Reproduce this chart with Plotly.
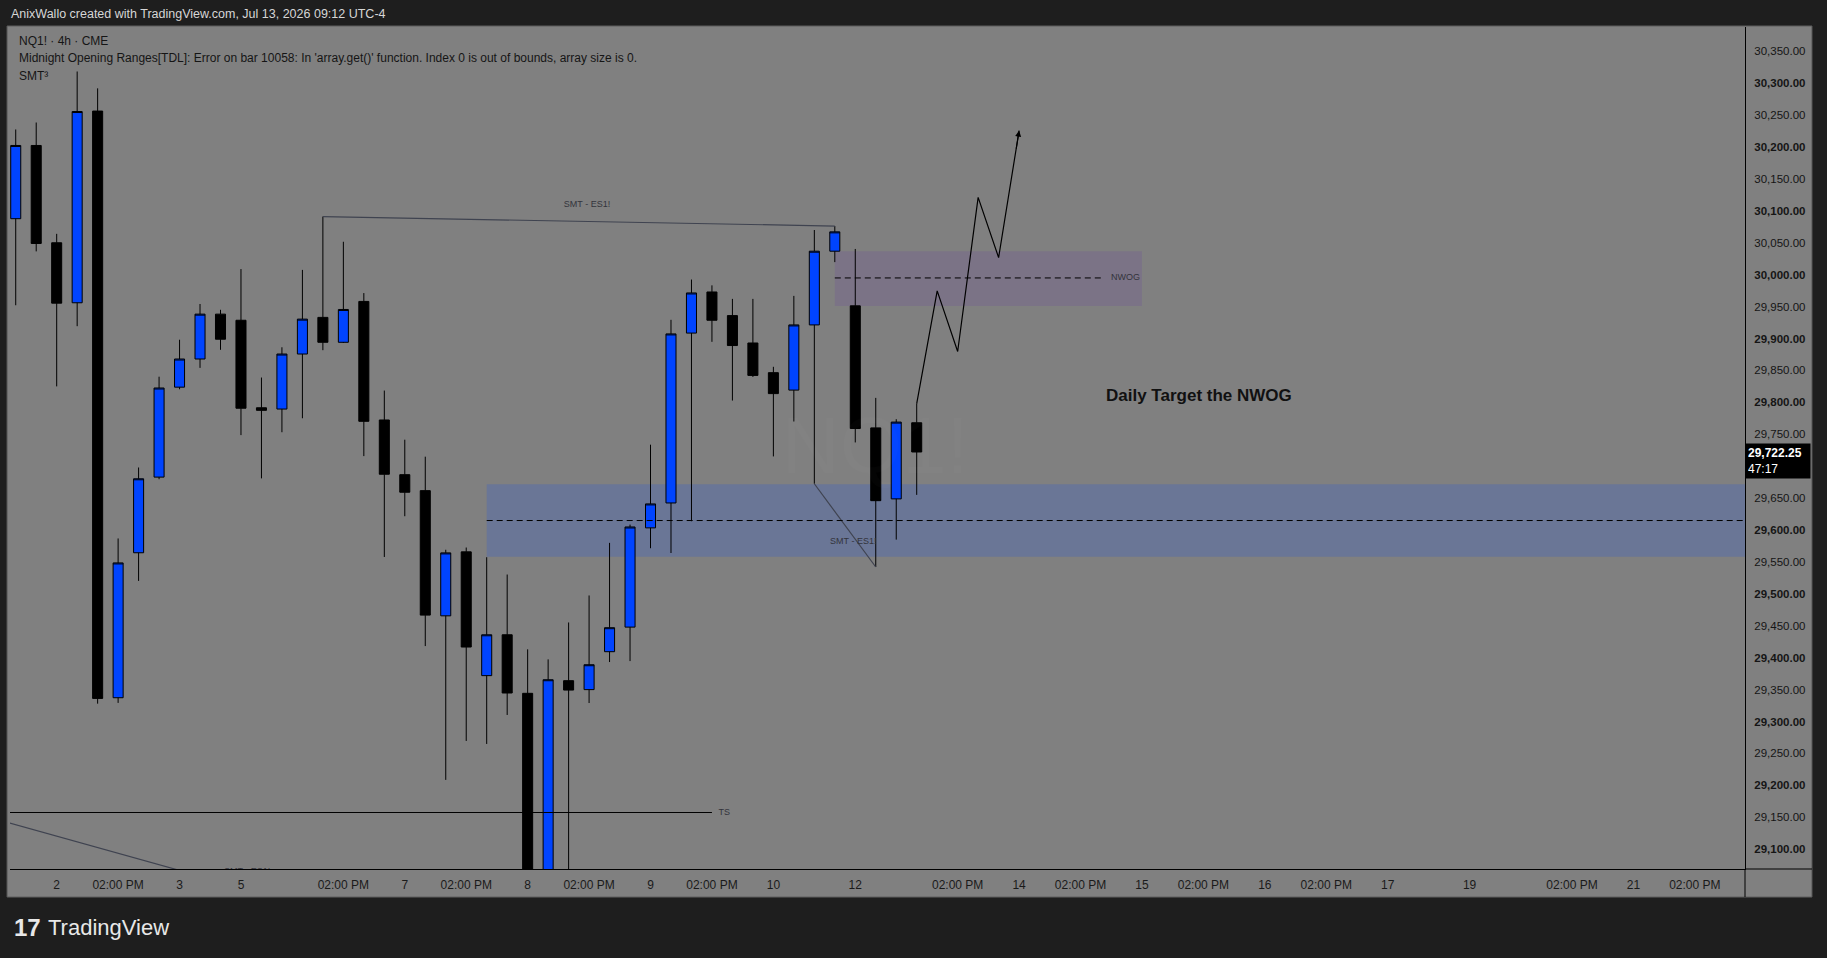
import plotly.graph_objects as go

# 4h NQ1! candles (index = bar number from the left edge)
bar_index = list(range(45))
opens = [30087.7, 30202.4, 30050.0, 29956.0, 30256.3, 29337.3, 29564.4, 29682.9, 29823.8, 29867.9,
         29938.2, 29928.6, 29791.5, 29789.5, 29875.7, 29933.1, 29894.1, 29958.1, 29772.4, 29686.7,
         29661.7, 29465.6, 29565.8, 29371.9, 29435.9, 29344.2, 29015.0, 29364.0, 29350.0, 29409.4,
         29447.9, 29603.4, 29642.4, 29908.5, 29972.9, 29935.9, 29893.0, 29846.5, 29819.2, 29921.3,
         30036.8, 29951.2, 29760.0, 29648.8, 29768.0]
highs = [30227.5, 30238.4, 30064.0, 30318.3, 30291.9, 29586.8, 29698.0, 29840.2, 29898.1, 29954.1,
         29945.0, 30008.8, 29838.9, 29886.3, 30007.5, 30091.0, 30051.6, 29971.2, 29818.5, 29741.5,
         29714.9, 29569.1, 29572.6, 29557.4, 29530.3, 29413.1, 29397.4, 29455.2, 29497.5, 29579.9,
         29608.5, 29733.7, 29929.3, 29992.4, 29983.3, 29962.1, 29962.1, 29855.7, 29966.8, 30070.0,
         30076.2, 30040.3, 29807.0, 29773.6, 29798.1]
lows = [29952.1, 30036.5, 29825.0, 29919.3, 29328.0, 29329.2, 29520.3, 29679.6, 29820.5, 29854.0,
        29882.3, 29748.7, 29680.9, 29753.2, 29775.1, 29881.7, 29893.0, 29715.8, 29557.8, 29621.6,
        29418.2, 29208.6, 29269.6, 29264.9, 29310.3, 28990.0, 28995.0, 29040.0, 29329.0, 29393.2,
        29394.7, 29571.5, 29564.0, 29613.8, 29894.8, 29802.8, 29839.8, 29715.3, 29770.0, 29672.5,
        30019.7, 29737.2, 29542.1, 29585.0, 29655.1]
closes = [30202.4, 30048.9, 29955.4, 30255.6, 29336.2, 29548.5, 29680.3, 29822.5, 29867.9, 29938.2,
          29898.9, 29790.8, 29787.5, 29875.7, 29930.4, 29894.1, 29945.5, 29770.3, 29687.4, 29659.2,
          29466.7, 29564.2, 29416.7, 29435.9, 29344.7, 29010.0, 29365.5, 29349.3, 29389.0, 29447.0,
          29604.8, 29640.9, 29907.2, 29971.4, 29928.6, 29889.0, 29842.2, 29813.7, 29921.3, 30036.8,
          30067.1, 29759.0, 29646.0, 29769.1, 29722.25]
last_price = 29722.25
countdown = "47:17"

# time axis labels (bar index -> label)
time_ticks = [2, 5, 8, 11, 16, 19, 22, 25, 28, 31, 34, 37, 41, 46, 49, 52, 55, 58, 61, 64, 67, 71, 76, 79, 82]
time_labels = ["2", "02:00 PM", "3", "5", "02:00 PM", "7", "02:00 PM", "8", "02:00 PM", "9", "02:00 PM",
               "10", "12", "02:00 PM", "14", "02:00 PM", "15", "02:00 PM", "16", "02:00 PM", "17",
               "19", "02:00 PM", "21", "02:00 PM"]
price_ticks = [29100 + 50 * k for k in range(26)]
hidden_tick = 29700  # sits under the last-price tag

# drawings
smt_top_x = [15, 40]
smt_top_y = [30091.0, 30076.2]
smt_low_x = [39, 42]
smt_low_y = [29672.5, 29542.1]
smt_old_x = [-0.3, 11]
smt_old_y = [29141.0, 29040.0]
ts_x = [-0.3, 34.0]
ts_y = [29157.5, 29157.5]
path_x = [44, 45, 46, 47, 48, 49]
path_y = [29798.1, 29974.7, 29879.7, 30121.1, 30026.8, 30225.7]

fvg_zone = dict(x0=23.0, y0=29558.1, y1=29671.8, mid=29614.9)
nwog_zone = dict(x0=40.0, x1=55.0, y0=29951.1, y1=30036.6, mid=29994.9)

FONT = "Liberation Sans, Arial, sans-serif"
X_RANGE = [-0.28, 84.45]
Y_RANGE = [29069.0, 30388.0]

fig = go.Figure()

fig.add_trace(go.Candlestick(
    x=bar_index, open=opens, high=highs, low=lows, close=closes,
    increasing=dict(fillcolor="#0044ff", line=dict(color="black", width=1)),
    decreasing=dict(fillcolor="black", line=dict(color="black", width=1)),
    whiskerwidth=0, showlegend=False, hoverinfo="skip",
))

line_col = "#3f4350"
for xs, ys, col in [(smt_top_x, smt_top_y, line_col), (smt_low_x, smt_low_y, line_col),
                    (smt_old_x, smt_old_y, line_col), (ts_x, ts_y, "black"),
                    (path_x, path_y, "black")]:
    fig.add_trace(go.Scatter(x=xs, y=ys, mode="lines", line=dict(color=col, width=1.2),
                             showlegend=False, hoverinfo="skip", cliponaxis=True))

# small labels on the drawings
fig.add_trace(go.Scatter(
    x=[27.9, 40.9, 11.3, 34.6, 54.2],
    y=[30109.0, 29582.2, 29064.0, 29157.5, 29994.9],
    text=["SMT - ES1!", "SMT - ES1!", "SMT - ES1!", "TS", "NWOG"],
    mode="text", textfont=dict(family=FONT, size=9, color="#33343c"),
    showlegend=False, hoverinfo="skip", cliponaxis=True,
))

# zones
fig.add_shape(type="rect", xref="x", yref="y", x0=fvg_zone["x0"], x1=X_RANGE[1],
              y0=fvg_zone["y0"], y1=fvg_zone["y1"], fillcolor="#6a7696", line_width=0, layer="below")
fig.add_shape(type="line", xref="x", yref="y", x0=fvg_zone["x0"], x1=X_RANGE[1],
              y0=fvg_zone["mid"], y1=fvg_zone["mid"], line=dict(color="black", width=1, dash="6px,4px"))
fig.add_shape(type="rect", xref="x", yref="y", x0=nwog_zone["x0"], x1=nwog_zone["x1"],
              y0=nwog_zone["y0"], y1=nwog_zone["y1"], fillcolor="#7b7386", line_width=0, layer="below")
fig.add_shape(type="line", xref="x", yref="y", x0=nwog_zone["x0"], x1=53.1,
              y0=nwog_zone["mid"], y1=nwog_zone["mid"], line=dict(color="black", width=1, dash="6px,4px"))

# outer gray panel + axis separators
fig.add_shape(type="rect", xref="paper", yref="paper", x0=-0.0017, x1=1.0386, y0=-0.0333, y1=1.0012,
              fillcolor="#808080", line=dict(color="#5c5c5c", width=1), layer="below")
fig.add_shape(type="line", xref="paper", yref="paper", x0=1.0, x1=1.0386, y0=0, y1=0,
              line=dict(color="black", width=1))
fig.add_shape(type="line", xref="paper", yref="paper", x0=1.0, x1=1.0, y0=-0.0333, y1=0,
              line=dict(color="black", width=1))

# watermark
fig.add_annotation(x=42.0, y=29731.7, text="NQ1!", showarrow=False,
                   font=dict(family=FONT, size=80, color="rgba(255,255,255,0.016)"))

# target text
fig.add_annotation(x=57.8, y=29810.6, text="<b>Daily Target the NWOG</b>", showarrow=False,
                   font=dict(family=FONT, size=17, color="#111111"))

# arrow head on the projected path
fig.add_annotation(x=path_x[-1], y=path_y[-1], ax=48.85, ay=30195.0, axref="x", ayref="y",
                   xref="x", yref="y", text="", showarrow=True, arrowhead=2, arrowsize=1.1,
                   arrowwidth=1.1, arrowcolor="black")

# last price tag
fig.add_annotation(xref="paper", yref="y", x=1.0, y=last_price, xanchor="left", yanchor="top",
                   yshift=9, text=f"<b>{last_price:,.2f}</b><br>{countdown}", showarrow=False,
                   align="left", bgcolor="black", borderpad=2, width=60,
                   font=dict(family=FONT, size=12, color="white"))

# header / legend texts
fig.add_annotation(xref="paper", yref="paper", x=-0.0006, y=1.0154, xanchor="left", yanchor="middle",
                   text="AnixWallo created with TradingView.com, Jul 13, 2026 09:12 UTC-4", showarrow=False,
                   font=dict(family=FONT, size=12.5, color="#d6d6d6"))
for yy, txt in [(0.9836, "NQ1! · 4h · CME"),
                (0.9629, "Midnight Opening Ranges[TDL]: Error on bar 10058: In 'array.get()' function. "
                         "Index 0 is out of bounds, array size is 0."),
                (0.9422, "SMT³")]:
    fig.add_annotation(xref="paper", yref="paper", x=0.0043, y=yy, xanchor="left", yanchor="middle",
                       text=txt, showarrow=False, font=dict(family=FONT, size=12, color="#151515"))

# TradingView logo
fig.add_annotation(xref="paper", yref="paper", x=0.001, y=-0.0695, xanchor="left", yanchor="middle",
                   text="<b>17</b>", showarrow=False, font=dict(family=FONT, size=24, color="#e8e8e8"))
fig.add_annotation(xref="paper", yref="paper", x=0.021, y=-0.0695, xanchor="left", yanchor="middle",
                   text="TradingView", showarrow=False, font=dict(family=FONT, size=22, color="#e8e8e8"))

price_labels = []
for v in price_ticks:
    if v == hidden_tick:
        price_labels.append("")
    elif v % 100 == 0:
        price_labels.append(f"<b>{v:,.2f}</b>")
    else:
        price_labels.append(f"{v:,.2f}")

fig.update_layout(
    width=1827, height=958,
    margin=dict(l=10, r=82, t=27, b=89),
    paper_bgcolor="#1e1e1e", plot_bgcolor="#808080",
    font=dict(family=FONT, color="#151515"),
    showlegend=False,
    xaxis=dict(range=X_RANGE, rangeslider=dict(visible=False), showgrid=False, zeroline=False,
               tickmode="array", tickvals=time_ticks, ticktext=time_labels,
               ticks="outside", ticklen=5, tickcolor="rgba(0,0,0,0)",
               tickfont=dict(family=FONT, size=12, color="#1a1a1a"),
               showline=True, linecolor="black", linewidth=1),
    yaxis=dict(range=Y_RANGE, side="right", showgrid=False, zeroline=False,
               tickmode="array", tickvals=price_ticks, ticktext=price_labels,
               ticks="outside", ticklen=6, tickcolor="rgba(0,0,0,0)",
               tickfont=dict(family=FONT, size=11.5, color="#151515"),
               showline=True, linecolor="black", linewidth=1),
)

fig.write_html(
    "out.html",
    config={"displayModeBar": False},
    post_script="document.body.style.margin='0';document.body.style.overflow='hidden';"
                "document.body.style.background='#1e1e1e';",
)
